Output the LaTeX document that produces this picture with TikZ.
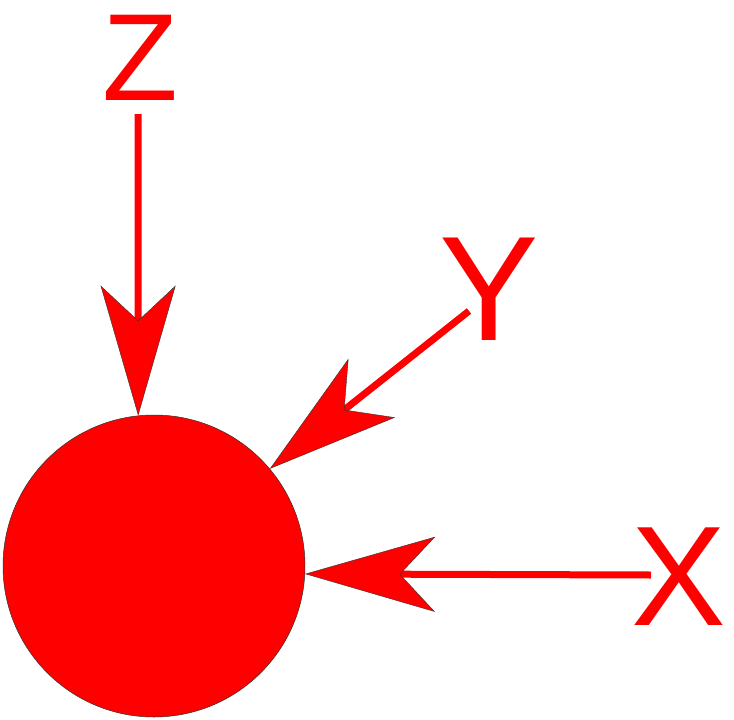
\documentclass[tikz,border=0pt]{standalone}
\usepackage{fontspec}
\setmainfont{Liberation Sans}
\usetikzlibrary{arrows.meta}
\definecolor{pure}{RGB}{255,0,0}
\tikzset{
  lbl/.style={inner sep=0pt, text=pure, anchor=center},
  ball/.style={circle, inner sep=0pt, minimum size=302pt, fill=pure, draw=black!80, line width=0.5pt},
  shaft/.style={draw=pure, line width=7pt, line cap=butt,
    -{Stealth[length=130pt, width=75pt, inset=35pt, fill=pure, color=black!80, line width=0.4pt]}}
}
\begin{document}
\begin{tikzpicture}[x=1pt, y=-1pt]
\useasboundingbox (0,0) rectangle (734,720);
\node[ball] (c) at (154,566) {};
\node[lbl, font=\fontsize{124}{124}\selectfont] (z) at (140.5,57.5) {Z};
\node[lbl, font=\fontsize{149}{149}\selectfont] (y) at (489.5,289.5) {Y};
\node[lbl, font=\fontsize{142}{142}\selectfont] (x) at (679,577) {X};
\coordinate (zs) at (138,114);
\coordinate (ys) at (469,311);
\coordinate (xs) at (651,575);
\draw[shaft] (zs) -- (c.96.6);
\draw[shaft] (ys) -- (c.40.4);
\draw[shaft] (xs) -- (c.-3.4);
\end{tikzpicture}
\end{document}
